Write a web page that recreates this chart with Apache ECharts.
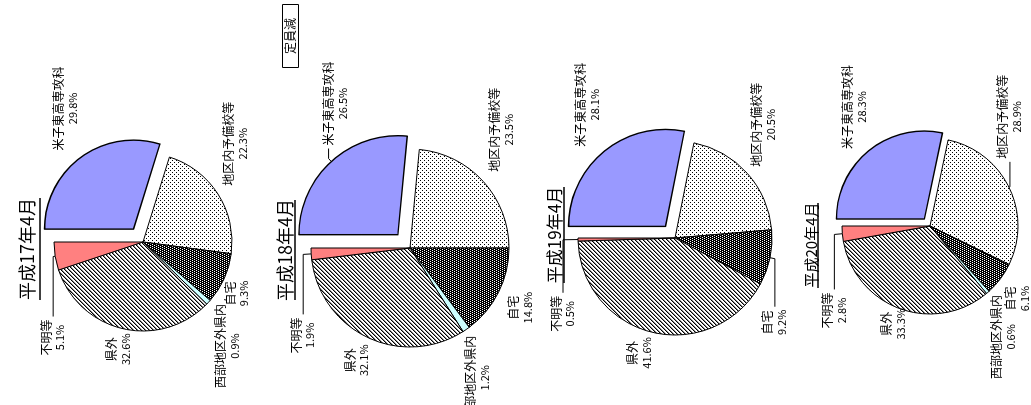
<!DOCTYPE html>
<html>
<head>
<meta charset="utf-8">
<script src="https://cdn.jsdelivr.net/npm/echarts@6/dist/echarts.min.js"></script>
<style>
  html, body { margin: 0; padding: 0; background: #fff; overflow: hidden; width: 1031px; height: 405px; }
  /* the figure is laid out upright (405 x 1031) and turned a quarter turn to the left */
  #chart { position: absolute; left: 0; top: 0; width: 405px; height: 1031px;
           transform-origin: 0 0; transform: translateY(405px) rotate(-90deg); }
</style>
</head>
<body>
<div id="chart"></div>
<script>
// ---- data -------------------------------------------------------------
const categories = ['米子東高専攻科', '地区内予備校等', '自宅', '西部地区外県内', '県外', '不明等'];
const periods = ['平成17年4月', '平成18年4月', '平成19年4月', '平成20年4月'];
const shareH17 = [29.8, 22.3, 9.3, 0.9, 32.6, 5.1];
const shareH18 = [26.5, 23.5, 14.8, 1.2, 32.1, 1.9];
const shareH19 = [28.1, 20.5, 9.2, 0, 41.6, 0.5];
const shareH20 = [28.3, 28.9, 6.1, 0.6, 33.3, 2.8];
const noteText = '定員減';
const shares = [shareH17, shareH18, shareH19, shareH20];

// ---- fill patterns ----------------------------------------------------
function makeTile(w, h, bg, draw) {
  const c = document.createElement('canvas');
  c.width = w; c.height = h;
  const g = c.getContext('2d');
  g.fillStyle = bg; g.fillRect(0, 0, w, h);
  draw(g);
  return { image: c, repeat: 'repeat' };
}
const sparseDots = makeTile(4, 4, '#fff', g => {
  g.fillStyle = '#000';
  g.fillRect(0, 0, 1, 1); g.fillRect(2, 2, 1, 1);
});
const darkDots = makeTile(4, 4, '#000', g => {
  g.fillStyle = '#fff';
  g.fillRect(0, 0, 1, 1); g.fillRect(2, 0, 1, 1);
  g.fillRect(1, 2, 1, 1); g.fillRect(3, 2, 1, 1);
});
const hatch = makeTile(4, 4, '#fff', g => {
  for (let i = 0; i < 4; i++) {
    const x = (3 - i + 4) % 4;
    g.fillStyle = '#000'; g.fillRect(x, i, 1, 1);
    g.fillStyle = '#8a8a8a'; g.fillRect((x + 1) % 4, i, 1, 1);
  }
});
const fills = ['#9999ff', sparseDots, darkDots, '#ccffff', hatch, '#ff8080'];

// ---- layout (upright frame, px) ---------------------------------------
const FONT = '"Noto Sans CJK JP", "Noto Sans CJK SC", sans-serif';
const pies = [
  { center: [163, 143], r: 89, explode: 16, title: { x: 156, y: 27.5, size: 18, line: [105, 207, 40] } },
  { center: [157, 410], r: 99, explode: 18, title: { x: 155, y: 285, size: 18, line: [105, 205, 295] } },
  { center: [167, 675], r: 97, explode: 15, title: { x: 170, y: 555, size: 17, line: [122, 218, 564] } },
  { center: [179, 930], r: 88, explode: 9,  title: { x: 160, y: 811, size: 15, line: [117, 202, 818] } }
];
// label nudges [dx, dy] per pie, by category
const nudges = [
  { '米子東高専攻科': [-4, -9], '地区内予備校等': [0, 9], '自宅': [5, 4], '西部地区外県内': [8, 12], '県外': [8, -2] },
  { '米子東高専攻科': [0, 7], '地区内予備校等': [0, 11], '自宅': [8, 13], '西部地区外県内': [5, 6], '県外': [5, -6] },
  { '米子東高専攻科': [-6, -10], '地区内予備校等': [-3, 9], '県外': [8, -11] },
  { '米子東高専攻科': [-9, -8], '自宅': [2, 9], '西部地区外県内': [8, 9], '県外': [13, -3] }
];
// leader lines [length, length2] per pie, by category
const leaders = [
  { '不明等': [2, 60] },
  { '米子東高専攻科': [4, 10], '不明等': [8, 60] },
  { '自宅': [5, 48], '不明等': [15, 53] },
  { '地区内予備校等': [1, 25], '不明等': [8, 55] }
];

const seriesNames = [];
const series = pies.map((p, s) => {
  const names = [];
  const data = [];
  shares[s].forEach((v, i) => {
    if (!v) return;
    const name = categories[i];
    names.push(name);
    const lead = leaders[s][name];
    data.push({
      name: name,
      value: v,
      selected: i === 0,
      itemStyle: { color: fills[i] },
      labelLine: lead ? { show: true, length: lead[0], length2: lead[1] } : { show: false, length: 10, length2: 0 }
    });
  });
  seriesNames.push(names);
  return {
    type: 'pie',
    center: p.center,
    radius: p.r,
    startAngle: 90,
    clockwise: true,
    selectedMode: 'single',
    selectedOffset: p.explode,
    avoidLabelOverlap: false,
    animation: false,
    emphasis: { disabled: true },
    itemStyle: { borderColor: '#000', borderWidth: 1 },
    select: { itemStyle: { borderColor: '#000', borderWidth: 1.4 } },
    label: {
      show: true,
      position: 'outside',
      color: '#000',
      fontFamily: FONT,
      fontSize: 12,
      lineHeight: 14,
      distanceToLabelLine: 3,
      formatter: prm => '{n|' + prm.name + '}\n{v|' + prm.value.toFixed(1) + '%}',
      rich: {
        n: { align: 'center', fontFamily: FONT, fontSize: 12, lineHeight: 14, color: '#000' },
        v: { align: 'center', fontFamily: FONT, fontSize: 11, lineHeight: 14, color: '#000' }
      }
    },
    labelLine: { show: false, lineStyle: { color: '#000', width: 1 } },
    labelLayout: prm => {
      const name = seriesNames[s][prm.dataIndex];
      const d = nudges[s][name];
      return d ? { dx: d[0], dy: d[1] } : {};
    },
    data: data
  };
});

const graphics = [];
pies.forEach((p, s) => {
  const t = p.title;
  graphics.push({
    type: 'text', x: t.x, y: t.y, silent: true,
    style: { text: periods[s], font: t.size + 'px ' + FONT, fill: '#000',
             align: 'center', verticalAlign: 'middle', textAlign: 'center', textVerticalAlign: 'middle' }
  });
  graphics.push({
    type: 'line', silent: true,
    shape: { x1: t.line[0], y1: t.line[2], x2: t.line[1], y2: t.line[2] },
    style: { stroke: '#000', lineWidth: 1.6 }
  });
});
graphics.push({
  type: 'rect', silent: true,
  shape: { x: 337.5, y: 282.5, width: 63, height: 16 },
  style: { fill: '#fff', stroke: '#000', lineWidth: 1 }
});
graphics.push({
  type: 'text', x: 369, y: 290.5, silent: true,
  style: { text: noteText, font: '12px ' + FONT, fill: '#000',
           align: 'center', verticalAlign: 'middle', textAlign: 'center', textVerticalAlign: 'middle' }
});

const chart = echarts.init(document.getElementById('chart'), null, { width: 405, height: 1031, renderer: 'canvas' });
chart.setOption({
  backgroundColor: '#fff',
  animation: false,
  series: series,
  graphic: graphics
});
</script>
</body>
</html>
